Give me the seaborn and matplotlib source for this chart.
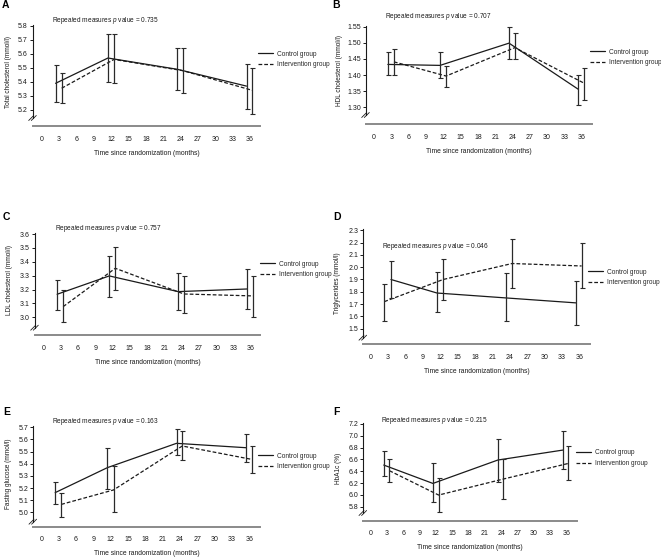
import matplotlib
matplotlib.use("Agg")
import numpy as np
import pandas as pd
import matplotlib.pyplot as plt
import seaborn as sns
from matplotlib.lines import Line2D

# ---- data ----
months = [3, 12, 24, 36]
groups = ["Control group", "Intervention group"]
x_ticks = list(range(0, 37, 3))

# A - total cholesterol
tc_ctrl = [5.39, 5.57, 5.49, 5.37]
tc_ctrl_lo = [5.26, 5.40, 5.34, 5.21]
tc_ctrl_hi = [5.52, 5.74, 5.64, 5.53]
tc_int = [5.355, 5.56, 5.48, 5.34]
tc_int_lo = [5.25, 5.39, 5.32, 5.17]
tc_int_hi = [5.46, 5.74, 5.64, 5.50]

# B - HDL cholesterol
hdl_ctrl = [1.433, 1.430, 1.499, 1.356]
hdl_ctrl_lo = [1.399, 1.390, 1.451, 1.308]
hdl_ctrl_hi = [1.470, 1.470, 1.550, 1.399]
hdl_int = [1.441, 1.397, 1.485, 1.375]
hdl_int_lo = [1.399, 1.362, 1.451, 1.323]
hdl_int_hi = [1.482, 1.429, 1.529, 1.421]

# C - LDL cholesterol
ldl_ctrl = [3.166, 3.298, 3.185, 3.204]
ldl_ctrl_lo = [3.050, 3.149, 3.050, 3.058]
ldl_ctrl_hi = [3.271, 3.444, 3.319, 3.345]
ldl_int = [3.077, 3.353, 3.168, 3.154]
ldl_int_lo = [2.966, 3.197, 3.029, 3.000]
ldl_int_hi = [3.197, 3.509, 3.300, 3.300]

# D - triglycerides
tg_ctrl = [1.90, 1.79, 1.75, 1.71]
tg_ctrl_lo = [1.75, 1.636, 1.56, 1.53]
tg_ctrl_hi = [2.05, 1.958, 1.95, 1.89]
tg_int = [1.72, 1.90, 2.03, 2.01]
tg_int_lo = [1.56, 1.73, 1.83, 1.83]
tg_int_hi = [1.86, 2.07, 2.23, 2.20]

# E - fasting glucose
fg_ctrl = [5.162, 5.368, 5.568, 5.532]
fg_ctrl_lo = [5.068, 5.192, 5.472, 5.412]
fg_ctrl_hi = [5.247, 5.532, 5.689, 5.642]
fg_int = [5.065, 5.184, 5.546, 5.436]
fg_int_lo = [4.959, 5.000, 5.428, 5.321]
fg_int_hi = [5.156, 5.381, 5.667, 5.549]

# F - HbA1c
hb_ctrl = [6.505, 6.194, 6.590, 6.759]
hb_ctrl_lo = [6.324, 5.872, 6.217, 6.443]
hb_ctrl_hi = [6.748, 6.545, 6.951, 7.087]
hb_int = [6.409, 5.997, 6.268, 6.533]
hb_int_lo = [6.223, 5.708, 5.934, 6.251]
hb_int_hi = [6.601, 6.290, 6.601, 6.827]

W, H = 661, 559
fig = plt.figure(figsize=(W / 100, H / 100), dpi=100)
sns.set_style("white")
plt.rcParams["font.family"] = ["Liberation Sans", "DejaVu Sans"]
plt.rcParams["mathtext.fontset"] = "custom"
plt.rcParams["mathtext.it"] = "Liberation Sans:italic"
plt.rcParams["mathtext.rm"] = "Liberation Sans"

INK = "#1a1a1a"
FS = 4.7
TICK_FS = 5.0


def fx(px):
    return px / W


def fy(py):
    return 1 - py / H


# layout in pixels: axes box, month-0/36 pixel x, two y tick anchors, break y
panels = [
    dict(letter="A", ylabel="Total cholesterol (mmol/l)", p="0.735",
         data=(tc_ctrl, tc_ctrl_lo, tc_ctrl_hi, tc_int, tc_int_lo, tc_int_hi),
         yticks=np.arange(5.2, 5.81, 0.1), fmt="{:.1f}",
         box=(33, 260, 25, 126), x0=41.7, x36=250, ya=(5.8, 25.7), yb=(5.2, 110), brk=118,
         title=(52, 20), leg=(258, 50.5), ylab_x=12, letter_xy=(2, 5)),
    dict(letter="B", ylabel="HDL cholesterol (mmol/l)", p="0.707",
         data=(hdl_ctrl, hdl_ctrl_lo, hdl_ctrl_hi, hdl_int, hdl_int_lo, hdl_int_hi),
         yticks=np.arange(1.30, 1.551, 0.05), fmt="{:.2f}",
         box=(366, 592, 26, 124), x0=374, x36=581.7, ya=(1.55, 26.7), yb=(1.30, 107.3), brk=115,
         title=(385, 17), leg=(590, 48.5), ylab_x=343, letter_xy=(332, 5)),
    dict(letter="C", ylabel="LDL cholesterol (mmol/l)", p="0.757",
         data=(ldl_ctrl, ldl_ctrl_lo, ldl_ctrl_hi, ldl_int, ldl_int_lo, ldl_int_hi),
         yticks=np.arange(3.0, 3.61, 0.1), fmt="{:.1f}",
         box=(35, 260, 233, 335), x0=43.3, x36=250.7, ya=(3.6, 234), yb=(3.0, 317.3), brk=327.7,
         title=(55, 229), leg=(260, 260.5), ylab_x=13, letter_xy=(3, 216.7)),
    dict(letter="D", ylabel="Triglycerides (mmol/l)", p="0.046",
         data=(tg_ctrl, tg_ctrl_lo, tg_ctrl_hi, tg_int, tg_int_lo, tg_int_hi),
         yticks=np.arange(1.5, 2.31, 0.1), fmt="{:.1f}",
         box=(363.3, 590, 229, 344.3), x0=370.7, x36=579.3, ya=(2.3, 230.3), yb=(1.5, 328.7), brk=337.7,
         title=(381.7, 246.7), leg=(588, 268.5), ylab_x=341, letter_xy=(333, 216.7),
         swap_first=True),
    dict(letter="E", ylabel="Fasting glucose (mmol/l)", p="0.163",
         data=(fg_ctrl, fg_ctrl_lo, fg_ctrl_hi, fg_int, fg_int_lo, fg_int_hi),
         yticks=np.arange(5.0, 5.71, 0.1), fmt="{:.1f}",
         box=(33.3, 260, 426, 526.7), x0=41.3, x36=249.3, ya=(5.7, 427.3), yb=(5.0, 512.3), brk=521.7,
         title=(51.7, 421.7), leg=(258, 452.5), ylab_x=12, letter_xy=(3, 411.7)),
    dict(letter="F", ylabel="HbA1c (%)", p="0.215",
         data=(hb_ctrl, hb_ctrl_lo, hb_ctrl_hi, hb_int, hb_int_lo, hb_int_hi),
         yticks=np.arange(5.8, 7.21, 0.2), fmt="{:.1f}",
         box=(363.3, 576.7, 423, 520.7), x0=370.7, x36=566.3, ya=(7.2, 424), yb=(5.8, 506.7), brk=513,
         title=(380.7, 420.7), leg=(575.7, 449.5), ylab_x=341.7, letter_xy=(333, 411.7)),
]

for cfg in panels:
    left, right, top, bottom = cfg["box"]
    ax = fig.add_axes([fx(left), fy(bottom), fx(right - left), (bottom - top) / H])

    # map pixel box to data limits
    ppm = (cfg["x36"] - cfg["x0"]) / 36
    ax.set_xlim((left - cfg["x0"]) / ppm, (right - cfg["x0"]) / ppm)
    (va, pa), (vb, pb) = cfg["ya"], cfg["yb"]
    ppv = (pb - pa) / (va - vb)
    y_of = lambda py: va - (py - pa) / ppv
    ax.set_ylim(y_of(bottom), y_of(top))

    c, c_lo, c_hi, i, i_lo, i_hi = cfg["data"]
    dodge_c = [-0.6, -0.55, -0.6, -0.6]
    dodge_i = [0.45, 0.5, 0.4, 0.4]
    if cfg.get("swap_first"):
        dodge_c[0], dodge_i[0] = 0.5, -0.65

    rows = []
    for g, mean, lo, hi, dg in [(groups[0], c, c_lo, c_hi, dodge_c),
                                (groups[1], i, i_lo, i_hi, dodge_i)]:
        for t, m, l, h, d in zip(months, mean, lo, hi, dg):
            rows.append({"group": g, "x": t + d, "mean": m, "lo": l, "hi": h})
    df = pd.DataFrame(rows)

    sns.lineplot(data=df, x="x", y="mean", hue="group", style="group",
                 palette={groups[0]: INK, groups[1]: INK},
                 dashes={groups[0]: "", groups[1]: (3, 1.6)},
                 sort=False, lw=0.9, ax=ax, legend=True)
    for g in groups:
        sub = df[df["group"] == g]
        ax.errorbar(sub["x"], sub["mean"],
                    yerr=[sub["mean"] - sub["lo"], sub["hi"] - sub["mean"]],
                    fmt="none", ecolor="#2a2a2a", elinewidth=0.9, capsize=1.8,
                    capthick=0.8)

    # axes styling
    for s in ["top", "right"]:
        ax.spines[s].set_visible(False)
    ax.spines["left"].set_bounds(y_of(cfg["brk"]), y_of(top))
    ax.spines["left"].set_color(INK)
    ax.spines["left"].set_linewidth(0.8)
    ax.spines["bottom"].set_color("#8a8a8a")
    ax.spines["bottom"].set_linewidth(1.4)
    ax.set_xticks(x_ticks)
    ax.set_yticks(cfg["yticks"])
    ax.set_yticklabels([cfg["fmt"].format(v) for v in cfg["yticks"]])
    ax.tick_params(axis="x", length=0, pad=7, labelsize=TICK_FS, colors=INK)
    ax.tick_params(axis="y", length=2.2, width=0.7, pad=1.5, labelsize=TICK_FS,
                   colors=INK, left=True)
    ax.set_xlabel("Time since randomization (months)", fontsize=FS + 0.2, color=INK,
                  labelpad=5)
    ax.set_ylabel(cfg["ylabel"], fontsize=FS, color=INK)
    ax.yaxis.set_label_coords(fx(cfg["ylab_x"]), fy((top + cfg["brk"]) / 2),
                              transform=fig.transFigure)
    ax.grid(False)

    # legend outside on the right
    ax.legend(loc="upper left", bbox_to_anchor=(fx(cfg["leg"][0]), fy(cfg["leg"][1])),
              bbox_transform=fig.transFigure, frameon=False, fontsize=FS,
              handlelength=2.3, handletextpad=0.6, borderpad=0, borderaxespad=0,
              labelspacing=0.6, title=None)

    # axis break mark
    bx, by = left, cfg["brk"]
    for off in (-1.3, 1.3):
        fig.add_artist(Line2D([fx(bx - 3 + off), fx(bx + 2 + off)],
                              [fy(by + 2.5), fy(by - 2.5)], color=INK, lw=0.6))

    fig.text(fx(cfg["title"][0]), fy(cfg["title"][1]),
             "Repeated measures $\\mathit{p}$ value = " + cfg["p"],
             fontsize=FS, color=INK, ha="left", va="center")
    fig.text(fx(cfg["letter_xy"][0]), fy(cfg["letter_xy"][1]), cfg["letter"],
             fontsize=7.5, fontweight="bold", color="black", ha="left", va="center")

fig.savefig("out.png", dpi=100)
